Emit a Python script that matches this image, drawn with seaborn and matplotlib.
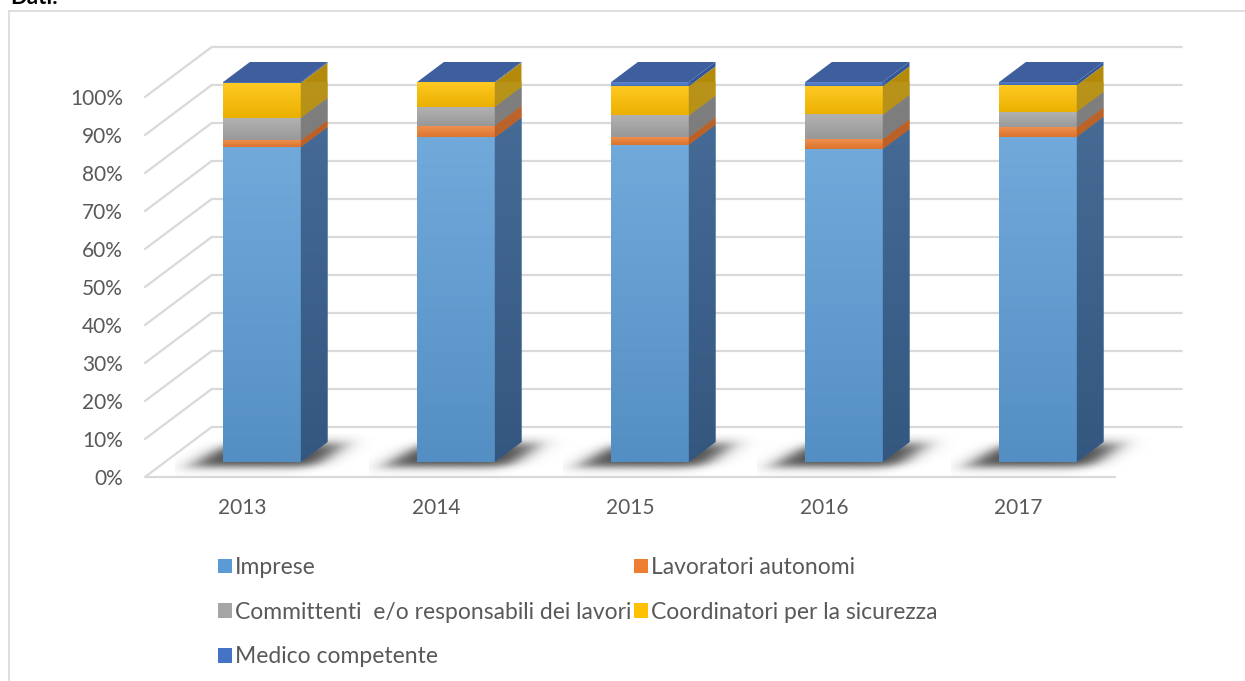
import numpy as np
import matplotlib
matplotlib.use("Agg")
import matplotlib.pyplot as plt
import matplotlib.colors as mcolors
from matplotlib.patches import Polygon, Patch
from matplotlib.lines import Line2D
import seaborn as sns

# data (percent of each year)
years = ["2013", "2014", "2015", "2016", "2017"]
imprese = [82.8, 85.3, 83.4, 82.3, 85.5]
lavoratori = [1.8, 3.1, 2.0, 2.6, 2.5]
committenti = [5.9, 5.0, 5.7, 6.4, 4.1]
coordinatori = [9.2, 6.4, 7.7, 7.5, 7.0]
medico = [0.3, 0.2, 1.2, 1.2, 0.9]

series_names = ["Imprese", "Lavoratori autonomi",
                "Committenti  e/o responsabili dei lavori",
                "Coordinatori per la sicurezza", "Medico competente"]
series_vals = [imprese, lavoratori, committenti, coordinatori, medico]
front_cols = ["#5B9BD5", "#ED7D31", "#A5A5A5", "#FFC000", "#4472C4"]
side_cols = ["#3B6390", "#B85A1E", "#767676", "#B38B08", "#34569A"]
top_col = "#3F5E9E"
yticks = list(range(0, 101, 10))

sns.set_style("white")
plt.rcParams['font.family'] = ['Lato', 'DejaVu Sans']
txt_col = "#595959"

W, H = 1245, 681
fig = plt.figure(figsize=(W / 100, H / 100), dpi=100)

# front plane of the 3d box (walls, gridlines, labels)
ax = fig.add_axes([145 / W, (H - 477) / H, 970 / W, 380 / H])
ax.set_xlim(-0.5, 4.5)
ax.set_ylim(0, 100)
ax.axis("off")
DX, DY = 66.7 / 194, 50 / 3.8

grid_col = "#D9D9D9"
for p in yticks:
    ax.plot([-0.5, -0.5 + DX, 4.5 + DX], [p, p + DY, p + DY],
            color=grid_col, lw=1.6, clip_on=False, zorder=1)
    ax.text(-0.5 - 22 / 194, p - 0.5, f"{p}%", ha="right", va="center",
            fontsize=15, color=txt_col)
ax.plot([-0.5, 4.5], [0, 0], color=grid_col, lw=1.6, clip_on=False, zorder=1)
for i, y in enumerate(years):
    ax.text(i, -8.2, y, ha="center", va="center", fontsize=15, color=txt_col)

# bars sit 0.3 of the depth back from the front plane
bx = fig.add_axes([165 / W, (H - 462) / H, 970 / W, 380 / H])
bx.patch.set_visible(False)
bdx, bdy = 0.4 * DX, 0.4 * DY
bw = 0.4
pxx, pxy = 194.0, 3.8  # pixels per data unit

cums = np.cumsum(np.array(series_vals), axis=0)
lows = np.vstack([np.zeros(len(years)), cums[:-1]])


def sig(z):
    return 1 / (1 + np.exp(-z))


def shade(c, f):
    r = np.array(mcolors.to_rgb(c))
    if f > 0:
        return r + (1 - r) * f
    return r * (1 + f)


def vgrad(top, bot, n=64):
    t = np.linspace(0, 1, n)[:, None]
    return (top[None, :] * (1 - t) + bot[None, :] * t)[:, None, :]


# soft shadow on the floor
for i in range(len(years)):
    xl = i - bw / 2
    x0, x1 = xl - 0.25, xl + bw + bdx + 0.25
    y0, y1 = -4.0, bdy + 2.0
    X, Y = np.meshgrid(np.linspace(x0, x1, 160), np.linspace(y0, y1, 60))
    px = (X - xl) * pxx
    py = Y * pxy
    shear = 26.7 / 20
    L = -26 + py * shear * 1.2
    R = bw * pxx + 20 + py * shear
    a = sig((px - L) / 7) * sig((R - px) / 7) * sig((py + 5) / 2.5) * sig((18 - py) / 3)
    rgba = np.zeros(X.shape + (4,))
    rgba[..., 3] = 0.72 * a
    im = bx.imshow(rgba, extent=(x0, x1, y0, y1), origin="lower",
                   aspect="auto", zorder=0.5, interpolation="bilinear")
    im.set_clip_on(False)

# stacked bars: tallest cumulative first
seg_patches = {}
for k in reversed(range(len(series_vals))):
    n0 = len(bx.patches)
    sns.barplot(x=years, y=cums[k], color=front_cols[k], width=bw,
                saturation=1, edgecolor="none", ax=bx, zorder=2)
    seg_patches[k] = bx.patches[n0:]

# gradients on front and side faces of each segment
for k, pats in seg_patches.items():
    ftop, fbot = shade(front_cols[k], 0.14), shade(front_cols[k], -0.08)
    stop, sbot = shade(side_cols[k], 0.08), shade(side_cols[k], -0.12)
    for i, pch in enumerate(pats):
        lo, hi = lows[k][i], cums[k][i]
        if hi - lo <= 0:
            continue
        x0 = pch.get_x()
        xr = x0 + pch.get_width()
        bx.imshow(vgrad(ftop, fbot), extent=(x0, xr, lo, hi),
                  aspect="auto", origin="upper", zorder=3, interpolation="bilinear")
        side = Polygon([(xr, lo), (xr + bdx, lo + bdy), (xr + bdx, hi + bdy), (xr, hi)],
                       closed=True, facecolor=side_cols[k], edgecolor="none",
                       clip_on=False, zorder=3)
        bx.add_patch(side)
        # gradient runs over the full bar height so the side shades smoothly
        g0 = shade(side_cols[k], 0.08 - 0.2 * (1 - hi / 100))
        g1 = shade(side_cols[k], 0.08 - 0.2 * (1 - lo / 100))
        sim = bx.imshow(vgrad(g0, g1), extent=(xr, xr + bdx, lo, hi + bdy),
                        aspect="auto", origin="upper", zorder=3.1, interpolation="bilinear")
        sim.set_clip_path(side)

# top faces
for pch in seg_patches[len(series_vals) - 1]:
    x0, x1 = pch.get_x(), pch.get_x() + pch.get_width()
    h = pch.get_height()
    topf = Polygon([(x0, h), (x1, h), (x1 + bdx, h + bdy), (x0 + bdx, h + bdy)],
                   closed=True, facecolor=top_col, edgecolor="none",
                   clip_on=False, zorder=4)
    bx.add_patch(topf)

bx.set_xlim(-0.5, 4.5)
bx.set_ylim(0, 100)
bx.axis("off")

# legend, filled row by row
order = [0, 2, 4, 1, 3]
handles = [Patch(facecolor=front_cols[k], edgecolor="none", label=series_names[k]) for k in order]
leg = fig.legend(handles=handles, loc="upper left", bbox_to_anchor=(218 / W, 1 - 557 / H),
                 ncol=2, frameon=False, fontsize=16.5, handlelength=0.62, handleheight=0.62,
                 handletextpad=0.12, columnspacing=0.12, labelspacing=1.03,
                 borderpad=0, borderaxespad=0)
for t in leg.get_texts():
    t.set_color(txt_col)

# chart area border and clipped caption
fig.add_artist(Line2D([9 / W, 1], [1 - 11 / H, 1 - 11 / H], color=grid_col, lw=1.2,
                      transform=fig.transFigure))
fig.add_artist(Line2D([9 / W, 9 / W], [0, 1 - 11 / H], color=grid_col, lw=1.2,
                      transform=fig.transFigure))
fig.text(10 / W, 1 - 4 / H, "Dati:", fontsize=16, fontweight="bold", va="baseline", color="black")

fig.savefig("out.png", dpi=100)
